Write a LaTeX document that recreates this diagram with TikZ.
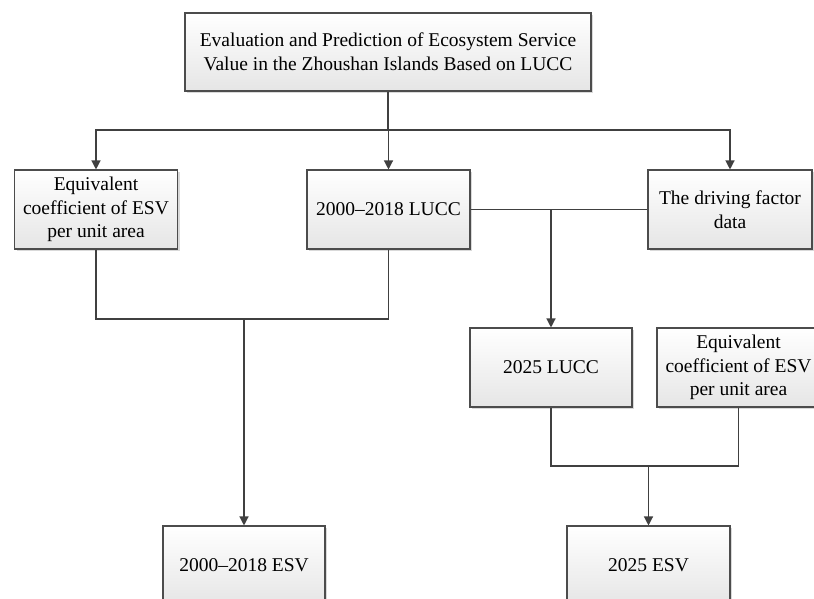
\documentclass[tikz,border=0pt]{standalone}
\usepackage{fontspec}
\setmainfont{Liberation Serif}
\usetikzlibrary{arrows.meta,shadows,calc}
\begin{document}
\begin{tikzpicture}[x=1pt,y=-1pt,
  box/.style={draw=black!70,line width=1.1pt,inner sep=0pt,
    top color=white,bottom color=black!10,
    drop shadow={shadow xshift=2pt,shadow yshift=-2pt,fill=black!25,opacity=0.6},
    align=center,font=\fontsize{19.5pt}{23.5pt}\selectfont},
  ln/.style={draw=black!75,line width=1.25pt},
  arr/.style={ln,-{Triangle[width=9pt,length=9pt]}}]
\useasboundingbox (0,0) rectangle (814,598);
\clip (0,0) rectangle (814,598);
\node[box,minimum width=406pt,minimum height=78pt] (title) at (388,52)
  {Evaluation and Prediction of Ecosystem Service\\Value in the Zhoushan Islands Based on LUCC};
\node[box,minimum width=163pt,minimum height=79pt] (eq1) at (96,209.5)
  {Equivalent\\coefficient of ESV\\per unit area};
\node[box,minimum width=163pt,minimum height=79pt] (lucc) at (388.5,209.5)
  {2000--2018 LUCC};
\node[box,minimum width=164pt,minimum height=79pt] (drv) at (730,209.5)
  {The driving factor\\data};
\node[box,minimum width=162pt,minimum height=79pt] (l25) at (551,367.5)
  {2025 LUCC};
\node[box,minimum width=163pt,minimum height=79pt] (eq2) at (738.5,367.5)
  {Equivalent\\coefficient of ESV\\per unit area};
\node[box,minimum width=162pt,minimum height=79pt] (esv1) at (244,565.5)
  {2000--2018 ESV};
\node[box,minimum width=163pt,minimum height=79pt] (esv2) at (648.5,565.5)
  {2025 ESV};
\coordinate (j1) at (388,130);
\coordinate (j2) at (244,319);
\coordinate (j3) at (648.5,466);
\draw[ln] (title.south) -- (j1);
\draw[arr] (j1) -| (eq1.north);
\draw[arr] (j1) -| (drv.north);
\draw[arr] (j1) -- (j1 -| lucc.north) -- (lucc.north);
\draw[ln] (lucc.east) -- (drv.west);
\draw[arr] (lucc.east -| l25.north) -- (l25.north);
\draw[ln] (eq1.south) |- (j2) -| (lucc.south);
\draw[arr] (j2) -- (esv1.north);
\draw[ln] (l25.south) |- (j3) -| (eq2.south);
\draw[arr] (j3) -- (esv2.north);
\end{tikzpicture}
\end{document}
